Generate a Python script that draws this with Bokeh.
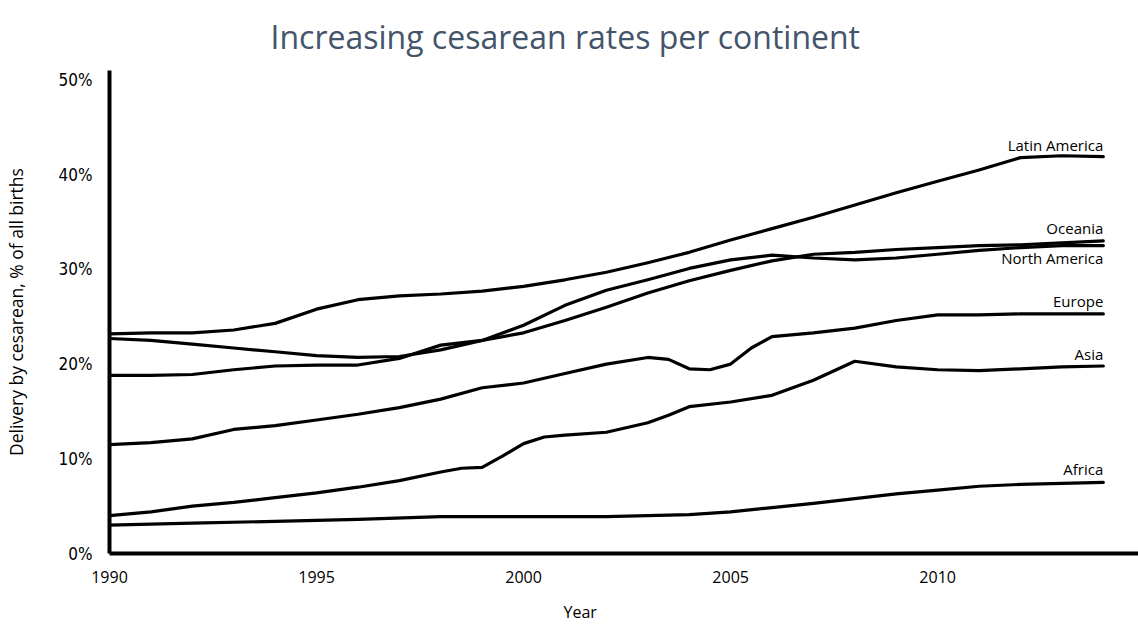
from bokeh.plotting import figure
from bokeh.models import Range1d, FixedTicker, PrintfTickFormatter, Title, ColumnDataSource
from bokeh.core.properties import value
from bokeh.embed import file_html
from bokeh.resources import INLINE

# ---------------- data ----------------
title_text = "Increasing cesarean rates per continent"
x_label = "Year"
y_label = "Delivery by cesarean, % of all births"

x_ticks = [1990, 1995, 2000, 2005, 2010]
y_ticks = [0, 10, 20, 30, 40, 50]

latin_america_years = list(range(1990, 2015))
latin_america_vals = [23.2, 23.3, 23.3, 23.6, 24.3, 25.8, 26.8, 27.2, 27.4, 27.7, 28.2, 28.9,
                      29.7, 30.7, 31.8, 33.1, 34.3, 35.5, 36.8, 38.1, 39.3, 40.5, 41.8, 42.0, 41.9]

oceania_years = list(range(1990, 2015))
oceania_vals = [18.8, 18.8, 18.9, 19.4, 19.8, 19.9, 19.9, 20.6, 22.0, 22.5, 23.3, 24.6,
                26.0, 27.5, 28.8, 29.9, 30.9, 31.6, 31.8, 32.1, 32.3, 32.5, 32.6, 32.8, 33.0]

north_america_years = list(range(1990, 2015))
north_america_vals = [22.7, 22.5, 22.1, 21.7, 21.3, 20.9, 20.7, 20.8, 21.5, 22.5, 24.1, 26.2,
                      27.8, 28.9, 30.1, 31.0, 31.5, 31.2, 31.0, 31.2, 31.6, 32.0, 32.3, 32.5, 32.5]

europe_years = [1990, 1991, 1992, 1993, 1994, 1995, 1996, 1997, 1998, 1999, 2000, 2001, 2002,
                2003, 2003.5, 2004, 2004.5, 2005, 2005.5, 2006, 2007, 2008, 2009, 2010,
                2011, 2012, 2013, 2014]
europe_vals = [11.5, 11.7, 12.1, 13.1, 13.5, 14.1, 14.7, 15.4, 16.3, 17.5, 18.0, 19.0, 20.0,
               20.7, 20.5, 19.5, 19.4, 20.0, 21.7, 22.9, 23.3, 23.8, 24.6, 25.2,
               25.2, 25.3, 25.3, 25.3]

asia_years = [1990, 1991, 1992, 1993, 1994, 1995, 1996, 1997, 1998, 1998.5, 1999, 1999.5,
              2000, 2000.5, 2001, 2002, 2003, 2003.5, 2004, 2005, 2006, 2007, 2008, 2009,
              2010, 2011, 2012, 2013, 2014]
asia_vals = [4.0, 4.4, 5.0, 5.4, 5.9, 6.4, 7.0, 7.7, 8.6, 9.0, 9.1, 10.3,
             11.6, 12.3, 12.5, 12.8, 13.8, 14.6, 15.5, 16.0, 16.7, 18.3, 20.3, 19.7,
             19.4, 19.3, 19.5, 19.7, 19.8]

africa_years = [1990, 1992, 1994, 1996, 1998, 2000, 2002, 2004, 2005, 2006, 2007, 2008,
                2009, 2010, 2011, 2012, 2013, 2014]
africa_vals = [3.0, 3.2, 3.4, 3.6, 3.9, 3.9, 3.9, 4.1, 4.4, 4.85, 5.3, 5.8,
               6.3, 6.7, 7.1, 7.3, 7.4, 7.5]

series_names = ["Latin America", "Oceania", "North America", "Europe", "Asia", "Africa"]
series_years = [latin_america_years, oceania_years, north_america_years,
                europe_years, asia_years, africa_years]
series_vals = [latin_america_vals, oceania_vals, north_america_vals,
               europe_vals, asia_vals, africa_vals]

# ---------------- styling ----------------
label_offsets = [-12, -13, 12, -13, -12, -13]   # pixels, negative = above the line end

p = figure(width=1138, height=637, output_backend="svg", toolbar_location=None,
           x_range=Range1d(1990, 2014.85), y_range=Range1d(0, 51),
           min_border_left=107, min_border_right=0, min_border_top=70, min_border_bottom=84)
p.outline_line_color = None
p.xgrid.visible = False
p.ygrid.visible = False
p.background_fill_color = "white"
p.border_fill_color = "white"

for yrs, vals in zip(series_years, series_vals):
    p.line(yrs, vals, line_color="black", line_width=3.2, line_join="round", line_cap="round")

end_src = ColumnDataSource(dict(
    x=[yrs[-1] for yrs in series_years],
    y=[vals[-1] for vals in series_vals],
    name=series_names,
    dy=label_offsets,
))
p.text(x="x", y="y", text="name", source=end_src, y_offset="dy",
       text_align="right", text_baseline="middle",
       text_font=value("Open Sans"), text_font_size="15px", text_color="black")

# axes
xa = p.xaxis[0]
xa.ticker = FixedTicker(ticks=x_ticks)
xa.axis_line_width = 4
xa.axis_line_color = "black"
xa.major_tick_line_color = None
xa.minor_tick_line_color = None
xa.major_tick_out = 0
xa.major_label_standoff = 17
xa.major_label_text_font = "Open Sans"
xa.major_label_text_font_size = "16px"
xa.major_label_text_color = "black"

ya = p.yaxis[0]
ya.ticker = FixedTicker(ticks=y_ticks)
ya.formatter = PrintfTickFormatter(format="%d%%")
ya.axis_line_width = 4
ya.axis_line_color = "black"
ya.major_tick_line_color = None
ya.minor_tick_line_color = None
ya.major_tick_out = 0
ya.major_label_standoff = 17
ya.major_label_text_font = "DejaVu Sans Condensed"
ya.major_label_text_font_size = "17px"
ya.major_label_text_color = "black"
ya.axis_label = y_label
ya.axis_label_standoff = 28
ya.axis_label_text_font = "Open Sans"
ya.axis_label_text_font_size = "17.5px"
ya.axis_label_text_font_style = "normal"
ya.axis_label_text_color = "black"

# title above and the x-axis name below, both offset from the frame's left edge
p.add_layout(Title(text=title_text, align="left", offset=161, standoff=25,
                   text_font="Open Sans", text_font_size="32px", text_font_style="normal",
                   text_color="#44546A"), "above")
p.add_layout(Title(text=x_label, align="left", offset=454, standoff=26,
                   text_font="Open Sans", text_font_size="16px", text_font_style="normal",
                   text_color="black"), "below")

open("out.html", "w").write(file_html(p, INLINE))
